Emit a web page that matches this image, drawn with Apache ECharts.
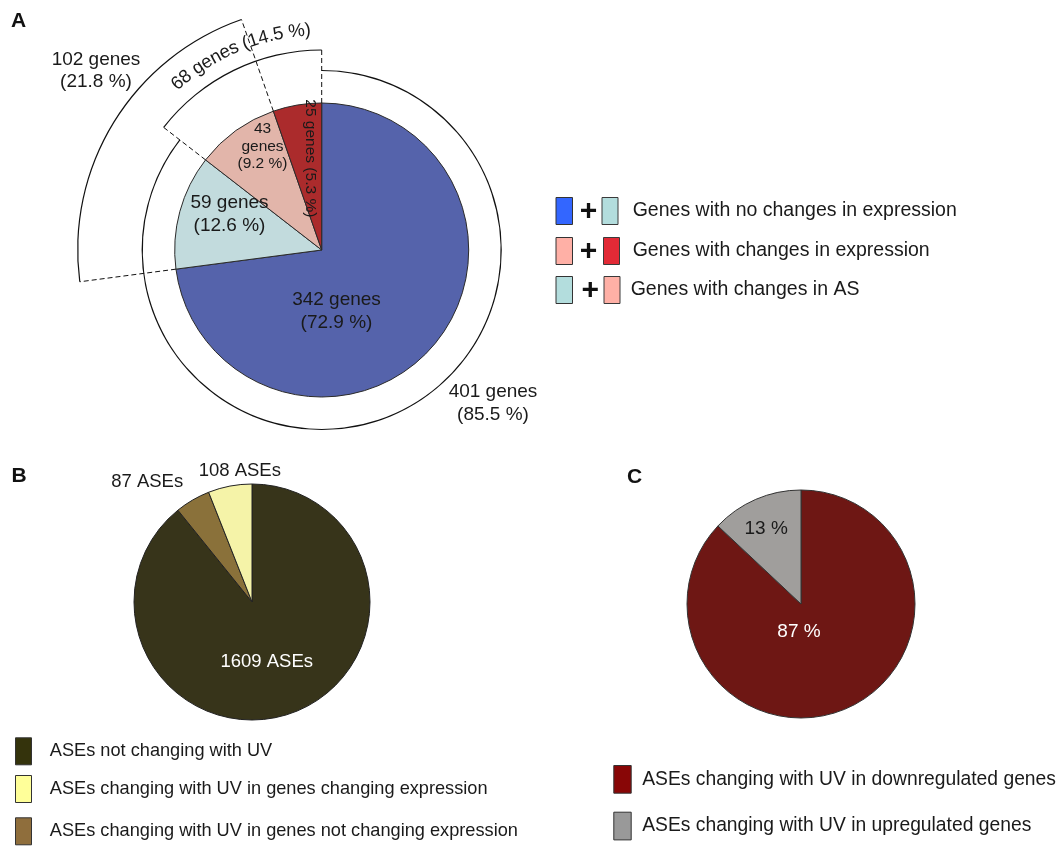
<!DOCTYPE html>
<html><head><meta charset="utf-8">
<script src="https://cdn.jsdelivr.net/npm/echarts@6/dist/echarts.min.js"></script>
<style>html,body{margin:0;padding:0;background:#fff}#c{width:1060px;height:847px}</style>
</head><body><div id="c"></div>
<script>
// ---------- Panel A data ----------
const geneCategories = ['No change in expression, no change in AS', 'No change in expression, change in AS', 'Change in expression, change in AS', 'Change in expression, no change in AS'];
const geneCounts = [342, 59, 43, 25];
const geneLabels = ['342 genes\n(72.9 %)', '59 genes\n(12.6 %)', '43\ngenes\n(9.2 %)', '25 genes (5.3 %)'];
const groupLabels = ['401 genes\n(85.5 %)', '68 genes (14.5 %)', '102 genes\n(21.8 %)'];
const legendALabels = ['Genes with no changes in expression', 'Genes with changes in expression', 'Genes with changes in AS'];

// ---------- Panel B data ----------
const aseCategories = ['ASEs not changing with UV', 'ASEs changing with UV in genes not changing expression', 'ASEs changing with UV in genes changing expression'];
const aseCounts = [1609, 87, 108];
const aseLabels = ['1609 ASEs', '87 ASEs', '108 ASEs'];

// ---------- Panel C data ----------
const regCategories = ['ASEs changing with UV in downregulated genes', 'ASEs changing with UV in upregulated genes'];
const regPercents = [87, 13];
const regLabels = ['87 %', '13 %'];

const FONT = '"Liberation Sans", Arial, Helvetica, sans-serif';
const TXT = '#1a1a1a';

const colorsA = ['#5563ab', '#c2dbdd', '#e2b5aa', '#ab2b2c'];
const colorsB = ['#37341a', '#8a713a', '#f5f3a8'];
const colorsC = ['#6e1714', '#a09e9c'];

const cA = [321.7, 250], rA = 147;
const cB = [252, 602], rB = 118;
const cC = [801, 604], rC = 114;

const totalA = geneCounts.reduce((a, b) => a + b, 0);
const noExpr = geneCounts[0] + geneCounts[1];
const withExpr = geneCounts[2] + geneCounts[3];
const withAS = geneCounts[1] + geneCounts[2];

const chart = echarts.init(document.getElementById('c'), null, {renderer: 'canvas'});

function ringSeries(radius, parts) {
  return {
    type: 'pie', center: cA, radius: radius, silent: true, animation: false,
    label: {show: false}, labelLine: {show: false},
    itemStyle: {borderWidth: 0},
    emphasis: {disabled: true},
    data: parts.map((p, i) => ({name: 'ring' + radius[0] + '_' + i, value: p.v, itemStyle: {color: p.on ? '#111' : 'rgba(0,0,0,0)'}}))
  };
}

const dashSeries = [
  {at: 0, to: 200},
  {at: noExpr, to: 200},
  {at: geneCounts[0], to: 244},
  {at: geneCounts[0] + withAS, to: 244}
].map(d => ({
  type: 'line', coordinateSystem: 'polar', silent: true, animation: false,
  symbol: 'none', lineStyle: {color: '#111', width: 1, type: [5, 3]},
  data: [[rA, d.at], [d.to, d.at]]
}));

function arcText(str, cx, cy, r, midDeg, fontSize) {
  const font = fontSize + 'px ' + FONT;
  const ctx = document.createElement('canvas').getContext('2d');
  ctx.font = font;
  const chars = Array.from(str);
  const widths = chars.map(ch => ctx.measureText(ch).width);
  const total = widths.reduce((a, b) => a + b, 0);
  let s = -total / 2;
  return chars.map((ch, i) => {
    const mid = s + widths[i] / 2;
    s += widths[i];
    const th = midDeg * Math.PI / 180 - mid / r;
    return {type: 'text', z: 100, x: cx - r * Math.sin(th), y: cy - r * Math.cos(th), rotation: th, silent: true,
      style: {text: ch, fontSize: fontSize, fontFamily: FONT, fill: TXT, align: 'center', verticalAlign: 'middle'}};
  });
}

function label(text, x, y, size, lh, color, extra) {
  return Object.assign({type: 'text', z: 100, x: x, y: y, silent: true,
    style: {text: text, fontSize: size, fontFamily: FONT, fill: color || TXT, align: 'center', verticalAlign: 'middle', lineHeight: lh || size * 1.2}}, extra || {});
}
function panelLetter(t, x, y) {
  return {type: 'text', z: 100, x: x, y: y, silent: true,
    style: {text: t, fontSize: 21, fontWeight: 'bold', fontFamily: FONT, fill: '#111', align: 'center', verticalAlign: 'middle'}};
}

const legendABoxes = [
  [['#3366ff', '#b3dddd'], 211],
  [['#ffb0a6', '#e22a36'], 251],
  [['#b3dddd', '#ffb0a6'], 290]
];
const legendAX = [[556, 588.5, 602, 632.7], [556, 588.5, 603.5, 632.7], [556, 590.2, 604, 630.7]];
const legendAEls = [];
legendABoxes.forEach((row, i) => {
  const cy = row[1], xs = legendAX[i];
  legendAEls.push({type: 'rect', z: 100, silent: true, shape: {x: xs[0], y: cy - 13.5, width: 16.5, height: 27}, style: {fill: row[0][0], stroke: '#333', lineWidth: 1}});
  legendAEls.push({type: 'rect', z: 100, silent: true, shape: {x: xs[2], y: cy - 13.5, width: 16, height: 27}, style: {fill: row[0][1], stroke: '#3a3a3a', lineWidth: 1}});
  legendAEls.push({type: 'text', z: 100, x: xs[1], y: cy + 1, silent: true, style: {text: '+', fontSize: 30, fontWeight: 'bold', fontFamily: FONT, fill: '#111', align: 'center', verticalAlign: 'middle'}});
  legendAEls.push({type: 'text', z: 100, x: xs[3], y: cy, silent: true, style: {text: legendALabels[i], fontSize: 19.5, fontFamily: FONT, fill: TXT, align: 'left', verticalAlign: 'middle'}});
});

const graphics = [
  panelLetter('A', 18.5, 21.5),
  panelLetter('B', 19, 476.7),
  panelLetter('C', 634.7, 477.5),
  label(geneLabels[0], 336.5, 311.5, 19, 23),
  label(geneLabels[1], 229.5, 214.5, 19, 22.5),
  label(geneLabels[2], 262.5, 146.7, 15.5, 17.5),
  label(geneLabels[3], 310, 158.3, 15.5, 18, TXT, {rotation: -Math.PI / 2}),
  label(groupLabels[0], 493, 403.3, 19, 23.3),
  label(groupLabels[2], 96, 70.8, 19, 21.7),
  ...arcText(groupLabels[1], cA[0], cA[1], 220, 22.5, 18.5),
  label(aseLabels[0], 266.7, 661.7, 18.5, 22, '#ffffff'),
  label(aseLabels[1], 147.2, 482.3, 18.5, 22),
  label(aseLabels[2], 239.8, 470.7, 18.5, 22),
  label(regLabels[0], 799, 631.7, 19, 22, '#ffffff'),
  label(regLabels[1], 766.2, 528.3, 19, 22),
  ...legendAEls
];

function legendRow(name, color, left, top, size, pad, bw, bh) {
  return {
    data: [{name: name, itemStyle: {color: color, borderColor: '#333', borderWidth: 1}}],
    left: left, top: top, orient: 'vertical', padding: 0, selectedMode: false,
    icon: 'rect', itemWidth: bw, itemHeight: bh,
    textStyle: {fontSize: size, fontFamily: FONT, color: TXT, padding: [0, 0, 0, pad]}
  };
}

const option = {
  animation: false,
  backgroundColor: '#ffffff',
  polar: {center: cA, radius: 250},
  angleAxis: {type: 'value', min: 0, max: totalA, startAngle: 90, clockwise: true, show: false},
  radiusAxis: {type: 'value', min: 0, max: 250, show: false},
  legend: [
    legendRow(aseCategories[0], '#34330c', 15, 737.3, 18.2, 13.3, 16, 27),
    legendRow(aseCategories[2], '#ffff99', 15, 775, 18.2, 13.3, 16, 27),
    legendRow(aseCategories[1], '#8f6e3c', 15, 817.3, 18.2, 13.3, 16, 27),
    legendRow(regCategories[0], '#880606', 613.3, 765, 19.3, 6, 17.4, 27.7),
    legendRow(regCategories[1], '#999999', 613.3, 811.7, 19.3, 6, 17.4, 27.7)
  ],
  graphic: graphics,
  series: [
    {
      type: 'pie', center: cA, radius: rA, silent: true, animation: false, startAngle: 90, clockwise: true,
      label: {show: false}, labelLine: {show: false},
      itemStyle: {borderColor: '#2a2a2a', borderWidth: 1},
      data: geneCategories.map((n, i) => ({name: n, value: geneCounts[i], itemStyle: {color: colorsA[i]}}))
    },
    ringSeries([178.9, 180.1], [{v: noExpr, on: true}, {v: withExpr, on: false}]),
    ringSeries([199.4, 200.6], [{v: noExpr, on: false}, {v: withExpr, on: true}]),
    ringSeries([243.4, 244.6], [{v: geneCounts[0], on: false}, {v: withAS, on: true}, {v: geneCounts[3], on: false}]),
    ...dashSeries,
    {
      type: 'pie', center: cB, radius: rB, silent: true, animation: false, startAngle: 90, clockwise: true,
      label: {show: false}, labelLine: {show: false},
      itemStyle: {borderColor: '#222', borderWidth: 1},
      data: aseCategories.map((n, i) => ({name: n, value: aseCounts[i], itemStyle: {color: colorsB[i]}}))
    },
    {
      type: 'pie', center: cC, radius: rC, silent: true, animation: false, startAngle: 90, clockwise: true,
      label: {show: false}, labelLine: {show: false},
      itemStyle: {borderColor: '#333', borderWidth: 1},
      data: regCategories.map((n, i) => ({name: n, value: regPercents[i], itemStyle: {color: colorsC[i]}}))
    }
  ]
};
chart.setOption(option);
</script>
</body></html>
